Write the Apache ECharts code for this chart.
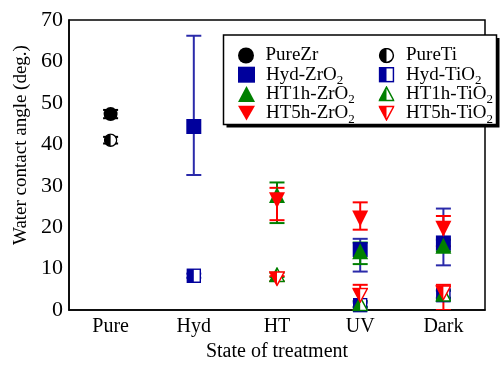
<!DOCTYPE html>
<html>
<head>
<meta charset="utf-8">
<script src="https://cdn.jsdelivr.net/npm/echarts@6/dist/echarts.min.js"></script>
<style>html,body{margin:0;padding:0;background:#fff}#c{width:501px;height:367px}</style>
</head>
<body>
<div id="c"></div>
<script>
// ---------- data ----------
const categories = ['Pure', 'Hyd', 'HT', 'UV', 'Dark'];
const yTicks = [0, 10, 20, 30, 40, 50, 60, 70];

const pureZrVal  = [47.3, null, null, null, null];
const pureZrLow  = [46.3, null, null, null, null];
const pureZrHigh = [48.3, null, null, null, null];

const pureTiVal  = [41.0, null, null, null, null];
const pureTiLow  = [40.2, null, null, null, null];
const pureTiHigh = [41.8, null, null, null, null];

const hydZrVal  = [null, 44.3, null, 14.6, 16.2];
const hydZrLow  = [null, 32.6, null, 9.3, 10.8];
const hydZrHigh = [null, 66.2, null, 17.2, 24.5];

const hydTiVal  = [null, 8.3, null, 1.2, 3.6];
const hydTiLow  = [null, 7.8, null, 0.6, 2.8];
const hydTiHigh = [null, 8.8, null, 1.8, 4.6];

const ht1ZrVal  = [null, null, 27.8, 14.2, 15.5];
const ht1ZrLow  = [null, null, 21.0, 11.1, 14.2];
const ht1ZrHigh = [null, null, 30.8, 16.3, 17.0];

const ht1TiVal  = [null, null, 8.5, 1.5, 3.8];
const ht1TiLow  = [null, null, 8.0, 0.8, 3.0];
const ht1TiHigh = [null, null, 9.0, 2.2, 4.8];

const ht5ZrVal  = [null, null, 26.5, 22.1, 19.6];
const ht5ZrLow  = [null, null, 21.7, 19.4, 15.4];
const ht5ZrHigh = [null, null, 29.5, 26.0, 22.7];

const ht5TiVal  = [null, null, 7.6, 3.6, 4.2];
const ht5TiLow  = [null, null, 7.0, 0.0, 0.0];
const ht5TiHigh = [null, null, 8.2, 6.1, 6.1];

// ---------- styles ----------
const FONT = "'Liberation Serif', 'Times New Roman', serif";
const BLUE = '#00009c', BLUE_ERR = '#2a2aaa', GREEN = '#008000', RED = '#ff0000';

function svgUrl(body) {
  const s = "<svg xmlns='http://www.w3.org/2000/svg' width='32' height='32' viewBox='0 0 16 16'>" + body + "</svg>";
  return 'image://data:image/svg+xml;charset=utf-8,' + encodeURIComponent(s);
}
const halfCircle = svgUrl("<circle cx='8' cy='8' r='6.9' fill='#fff' stroke='#000' stroke-width='1.5'/><path d='M8 1.1 A6.9 6.9 0 0 0 8 14.9 Z' fill='#000'/>");
const halfSquare = svgUrl("<rect x='1' y='1' width='14' height='14' fill='#fff' stroke='" + BLUE + "' stroke-width='1.6'/><rect x='1' y='1' width='7' height='14' fill='" + BLUE + "'/>");
const halfUp = svgUrl("<polygon points='8,1.2 15.2,14.6 0.8,14.6' fill='#fff' stroke='" + GREEN + "' stroke-width='1.5' stroke-linejoin='miter'/><polygon points='8,1.2 8,14.6 0.8,14.6' fill='" + GREEN + "'/>");
const halfDown = svgUrl("<polygon points='0.8,1.4 15.2,1.4 8,14.8' fill='#fff' stroke='" + RED + "' stroke-width='1.5'/><polygon points='0.8,1.4 8,1.4 8,14.8' fill='" + RED + "'/>");
const downTri = 'path://M0,0 L16,0 L8,14 Z';

const seriesDefs = [
  {name: 'PureZr',    val: pureZrVal, lo: pureZrLow, hi: pureZrHigh, symbol: 'circle', size: 14, color: '#000', err: '#000'},
  {name: 'PureTi',    val: pureTiVal, lo: pureTiLow, hi: pureTiHigh, symbol: halfCircle, size: 14, color: '#000', err: '#000'},
  {name: 'Hyd-ZrO2',  val: hydZrVal,  lo: hydZrLow,  hi: hydZrHigh,  symbol: 'rect', size: 15, color: BLUE, err: BLUE_ERR},
  {name: 'Hyd-TiO2',  val: hydTiVal,  lo: hydTiLow,  hi: hydTiHigh,  symbol: halfSquare, size: 15, color: BLUE, err: BLUE_ERR},
  {name: 'HT1h-ZrO2', val: ht1ZrVal,  lo: ht1ZrLow,  hi: ht1ZrHigh,  symbol: 'triangle', size: 16, color: GREEN, err: GREEN},
  {name: 'HT1h-TiO2', val: ht1TiVal,  lo: ht1TiLow,  hi: ht1TiHigh,  symbol: halfUp, size: 16, color: GREEN, err: GREEN},
  {name: 'HT5h-ZrO2', val: ht5ZrVal,  lo: ht5ZrLow,  hi: ht5ZrHigh,  symbol: downTri, size: 16, color: RED, err: RED},
  {name: 'HT5h-TiO2', val: ht5TiVal,  lo: ht5TiLow,  hi: ht5TiHigh,  symbol: halfDown, size: 16, color: RED, err: RED}
];
// legend layout: [column, row] for each series
const legendCol = [0, 1, 0, 1, 0, 1, 0, 1];
const legendRow = [0, 0, 1, 1, 2, 2, 3, 3];

function errRender(color) {
  return function (params, api) {
    const x = api.value(0);
    const pLo = api.coord([x, api.value(2)]);
    const pHi = api.coord([x, api.value(3)]);
    const w = 7.5;
    const st = {stroke: color, lineWidth: 2};
    return {type: 'group', children: [
      {type: 'line', shape: {x1: pLo[0], y1: pLo[1], x2: pHi[0], y2: pHi[1]}, style: st},
      {type: 'line', shape: {x1: pLo[0] - w, y1: pLo[1], x2: pLo[0] + w, y2: pLo[1]}, style: st},
      {type: 'line', shape: {x1: pHi[0] - w, y1: pHi[1], x2: pHi[0] + w, y2: pHi[1]}, style: st}
    ]};
  };
}

const series = [];
seriesDefs.forEach(function (d) {
  const errData = [], ptData = [];
  categories.forEach(function (c, i) {
    if (d.val[i] != null) {
      errData.push([i, d.val[i], d.lo[i], d.hi[i]]);
      ptData.push([i, d.val[i]]);
    }
  });
  series.push({
    name: d.name, type: 'scatter', data: ptData, symbol: d.symbol, symbolSize: d.size,
    itemStyle: {color: d.color, opacity: 1}, z: 5
  });
  series.push({
    name: 'err ' + d.name, type: 'custom', data: errData, renderItem: errRender(d.err),
    encode: {x: 0, y: [1, 2, 3]}, clip: true, z: 4, silent: true
  });
});

function legendFmt(name) {
  const m = name.match(/^(.*O)2$/);
  return m ? '{n|' + m[1] + '}{s|2}' : '{n|' + name + '}{s| }';
}
const legendText = {
  fontFamily: FONT, fontSize: 19, color: '#000',
  rich: {
    n: {fontFamily: FONT, fontSize: 19, lineHeight: 19, color: '#000', padding: [0, 0, 0, 6]},
    s: {fontFamily: FONT, fontSize: 13, lineHeight: 7, padding: [12, 0, 0, 0], color: '#000'}
  }
};
const legends = seriesDefs.map(function (d, k) {
  return {
    z: 20, orient: 'vertical', padding: 0, itemGap: 0,
    left: legendCol[k] === 0 ? 238 : 378,
    top: 43 + legendRow[k] * 19.2,
    itemWidth: 17, itemHeight: 16, textStyle: legendText, formatter: legendFmt,
    selectedMode: false, data: [d.name]
  };
});

const option = {
  animation: false,
  backgroundColor: '#fff',
  grid: {left: 69, right: 16, top: 20, bottom: 52, show: true, borderColor: '#000', borderWidth: 1.5, backgroundColor: 'transparent'},
  xAxis: {
    type: 'category', data: categories, boundaryGap: true,
    name: 'State of treatment', nameLocation: 'middle', nameGap: 31,
    nameTextStyle: {fontFamily: FONT, fontSize: 20, color: '#000'},
    axisLine: {lineStyle: {color: '#000', width: 1.5}},
    axisTick: {inside: true, length: 5, alignWithLabel: true, lineStyle: {color: '#000', width: 1.5}},
    axisLabel: {fontFamily: FONT, fontSize: 20, color: '#000', margin: 7},
    splitLine: {show: false}
  },
  yAxis: {
    type: 'value', min: 0, max: 70, interval: 10,
    name: 'Water contact angle (deg.)', nameLocation: 'middle', nameGap: 36,
    nameTextStyle: {fontFamily: FONT, fontSize: 19, color: '#000', padding: [0, 0, 0, 40]},
    axisLine: {show: true, lineStyle: {color: '#000', width: 1.5}},
    axisTick: {inside: true, length: 5, lineStyle: {color: '#000', width: 1.5}},
    axisLabel: {fontFamily: FONT, fontSize: 22, color: '#000', margin: 6,
      formatter: function (v) { return yTicks.indexOf(v) >= 0 ? String(v) : ''; }},
    splitLine: {show: false}
  },
  graphic: [
    {type: 'rect', z: 10, shape: {x: 226.5, y: 38, width: 273, height: 89.5}, style: {fill: '#000'}},
    {type: 'rect', z: 11, shape: {x: 223.5, y: 35, width: 273, height: 89.5}, style: {fill: '#fff', stroke: '#000', lineWidth: 1.5}}
  ],
  legend: legends,
  series: series
};

const chart = echarts.init(document.getElementById('c'), null, {renderer: 'canvas'});
chart.setOption(option);
</script>
</body>
</html>
